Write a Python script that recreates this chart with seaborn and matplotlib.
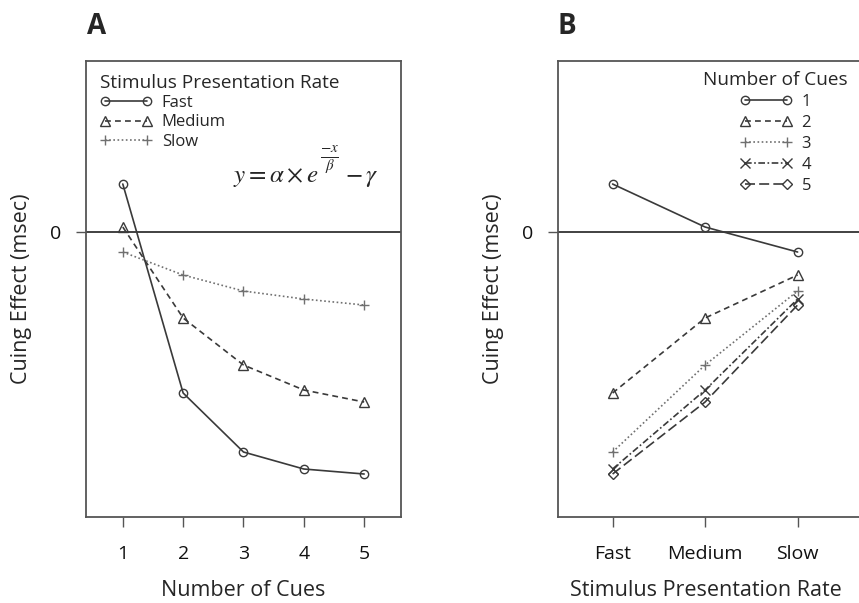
import pandas as pd
import seaborn as sns
from matplotlib import pyplot as plt

sns.set_theme(
    style="ticks",
    rc={
        "axes.edgecolor": "#555555",
        "axes.linewidth": 1.3,
        "xtick.color": "#555555",
        "ytick.color": "#555555",
        "xtick.labelcolor": "#111111",
        "ytick.labelcolor": "#111111",
        "mathtext.fontset": "stix",
    },
)
plt.rcParams["font.family"] = ["Open Sans", "DejaVu Sans"]

# Cuing effect (msec, arbitrary scale) by presentation rate and number of cues
cues = [1, 2, 3, 4, 5]
rates = ["Fast", "Medium", "Slow"]
fast = [4.8, -16.1, -22.0, -23.7, -24.2]
medium = [0.5, -8.6, -13.3, -15.8, -17.0]
slow = [-2.0, -4.3, -5.9, -6.7, -7.3]

rows = []
for rate, vals in zip(rates, [fast, medium, slow]):
    for c, v in zip(cues, vals):
        rows.append({"rate": rate, "cues": c, "cue_lbl": str(c), "effect": v})
df = pd.DataFrame(rows)

rate_markers = ["o", "^", "+"]
rate_dashes = {"Fast": "", "Medium": (3.5, 2.5), "Slow": (1, 1.5)}
rate_colors = {"Fast": "#3a3a3a", "Medium": "#3a3a3a", "Slow": "#707070"}

cue_lbls = [str(c) for c in cues]
cue_markers = ["o", "^", "+", "x", "D"]
cue_dashes = dict(zip(cue_lbls, ["", (3.5, 2.5), (1, 1.5), (4, 1.5, 1, 1.5), (6, 2.5)]))
cue_colors = dict(zip(cue_lbls, ["#3a3a3a", "#3a3a3a", "#707070", "#3a3a3a", "#3a3a3a"]))

YLIM = (-28.5, 17.1)
MARKER_SIZE = {"o": 6, "^": 7.5, "+": 7, "x": 6.5, "D": 5}


def style_lines(ax, markers):
    lines = list(ax.lines)
    for line, m in zip(lines, markers):
        col = line.get_color()
        line.set_marker(m)
        line.set_markerfacecolor("none")
        line.set_markeredgecolor(col)
        line.set_markeredgewidth(1.0)
        line.set_markersize(MARKER_SIZE[m])
    return lines


def finish_axes(ax, handles, labels, title, legend_kw):
    ax.axhline(0, color="#333333", lw=1.3, zorder=1)
    ax.set_ylim(*YLIM)
    ax.set_yticks([0])
    ax.set_yticklabels(["0"])
    ax.tick_params(axis="both", direction="out", length=7, width=1.0, labelsize=14)
    ax.tick_params(axis="x", pad=13)
    ax.tick_params(axis="y", pad=11)
    for s in ax.spines.values():
        s.set_visible(True)
    ax.set_ylabel("Cuing Effect (msec)", fontsize=15.5)
    ax.yaxis.set_label_coords(-0.17, 0.5)
    leg = ax.legend(
        handles,
        labels,
        title=title,
        numpoints=2,
        frameon=False,
        fontsize=12,
        title_fontsize=13.7,
        borderpad=0,
        borderaxespad=0,
        handlelength=3.1,
        handletextpad=0.6,
        **legend_kw,
    )
    return leg


fig = plt.figure(figsize=(8.59, 6.03), dpi=100)
axA = fig.add_axes([0.1001, 0.1426, 0.3667, 0.7562])
axB = fig.add_axes([0.6496, 0.1426, 0.3667, 0.7562])

# Panel A
sns.lineplot(
    data=df, x="cues", y="effect", hue="rate", style="rate",
    hue_order=rates, style_order=rates, palette=rate_colors,
    dashes=rate_dashes, errorbar=None,
    legend=False, linewidth=1.2, ax=axA,
)
hA = style_lines(axA, rate_markers)
axA.set_xlim(0.39, 5.61)
axA.set_xticks(cues)
finish_axes(axA, hA, rates, "Stimulus Presentation Rate",
            dict(loc="upper left", bbox_to_anchor=(0.045, 0.972), alignment="left",
                 labelspacing=0.2))
axA.set_xlabel("Number of Cues", fontsize=15.5)
axA.xaxis.set_label_coords(0.5, -0.138)

# fitted curve formula, exponent drawn as its own piece so it stays legible
axA.text(0.7365, 0.7346, r"$y = \alpha \times e$", transform=axA.transAxes,
         ha="right", va="baseline", fontsize=18)
axA.text(0.7746, 0.7830, r"$\frac{-x}{\beta}$", transform=axA.transAxes,
         ha="center", va="center", fontsize=15.5)
axA.text(0.822, 0.7346, r"$-\,\gamma$", transform=axA.transAxes,
         ha="left", va="baseline", fontsize=18)

# Panel B
sns.lineplot(
    data=df, x="rate", y="effect", hue="cue_lbl", style="cue_lbl",
    hue_order=cue_lbls, style_order=cue_lbls, palette=cue_colors,
    dashes=cue_dashes, errorbar=None, sort=False,
    legend=False, linewidth=1.2, ax=axB,
)
hB = style_lines(axB, cue_markers)
axB.set_xlim(-0.59, 2.815)
finish_axes(axB, hB, cue_lbls, "Number of Cues",
            dict(loc="upper right", bbox_to_anchor=(0.92, 0.978), labelspacing=0.3))
axB.set_xlabel("Stimulus Presentation Rate", fontsize=15.5)
axB.xaxis.set_label_coords(0.47, -0.138)

fig.text(87 / 859, 1 - 34 / 603, "A", fontsize=20, fontweight="bold", ha="left", va="baseline")
fig.text(558 / 859, 1 - 34 / 603, "B", fontsize=20, fontweight="bold", ha="left", va="baseline")

fig.savefig("out.png", dpi=100)
